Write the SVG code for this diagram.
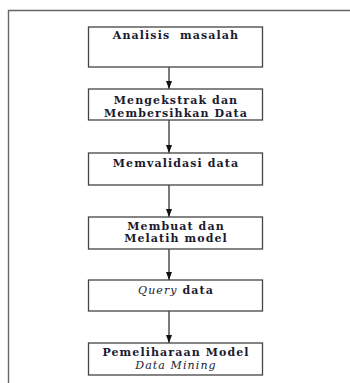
<svg xmlns="http://www.w3.org/2000/svg" width="350" height="383" viewBox="0 0 350 383">
  <defs>
    <marker id="arrow" markerWidth="8" markerHeight="6" refX="8" refY="3" orient="auto" markerUnits="userSpaceOnUse">
      <path d="M0,0 L8,3 L0,6 Z" fill="#111"/>
    </marker>
    <style>
      .frame { fill: none; stroke: #666; stroke-width: 1.4; }
      .box { fill: #fff; stroke: #444; stroke-width: 1.3; }
      .lbl { font-family: "DejaVu Serif", "Liberation Serif", serif; font-size: 11px; font-weight: bold; letter-spacing: 1.1px; fill: #1a1a2e; text-anchor: middle; }
      .it { font-style: italic; font-weight: normal; }
      .conn { stroke: #333; stroke-width: 1.3; fill: none; marker-end: url(#arrow); }
    </style>
  </defs>
  <rect width="350" height="383" fill="#fff"/>
  <!-- outer frame: top and left edges only -->
  <path class="frame" d="M8.5,383 V10.5 H350"/>

  <g id="connectors">
    <line class="conn" x1="169" y1="67" x2="169" y2="89"/>
    <line class="conn" x1="169" y1="120" x2="169" y2="153"/>
    <line class="conn" x1="169" y1="185" x2="169" y2="217"/>
    <line class="conn" x1="169" y1="249" x2="169" y2="280"/>
    <line class="conn" x1="169" y1="311" x2="169" y2="343"/>
  </g>

  <g id="analisis">
    <rect class="box" x="88.5" y="27" width="174" height="40"/>
    <text class="lbl" x="176" y="39" xml:space="preserve">Analisis  masalah</text>
  </g>
  <g id="mengekstrak">
    <rect class="box" x="88.5" y="89" width="174" height="31"/>
    <text class="lbl" x="176" y="104">Mengekstrak dan</text>
    <text class="lbl" x="176" y="117">Membersihkan Data</text>
  </g>
  <g id="memvalidasi">
    <rect class="box" x="88.5" y="153" width="174" height="32"/>
    <text class="lbl" x="176" y="167">Memvalidasi data</text>
  </g>
  <g id="membuat">
    <rect class="box" x="88.5" y="217" width="174" height="32"/>
    <text class="lbl" x="176" y="230">Membuat dan</text>
    <text class="lbl" x="176" y="242">Melatih model</text>
  </g>
  <g id="query">
    <rect class="box" x="88.5" y="280" width="174" height="31"/>
    <text class="lbl" x="176" y="294"><tspan class="it">Query</tspan> data</text>
  </g>
  <g id="pemeliharaan">
    <rect class="box" x="88.5" y="343" width="174" height="32"/>
    <text class="lbl" x="176" y="356">Pemeliharaan Model</text>
    <text class="lbl it" x="176" y="369">Data Mining</text>
  </g>
</svg>
